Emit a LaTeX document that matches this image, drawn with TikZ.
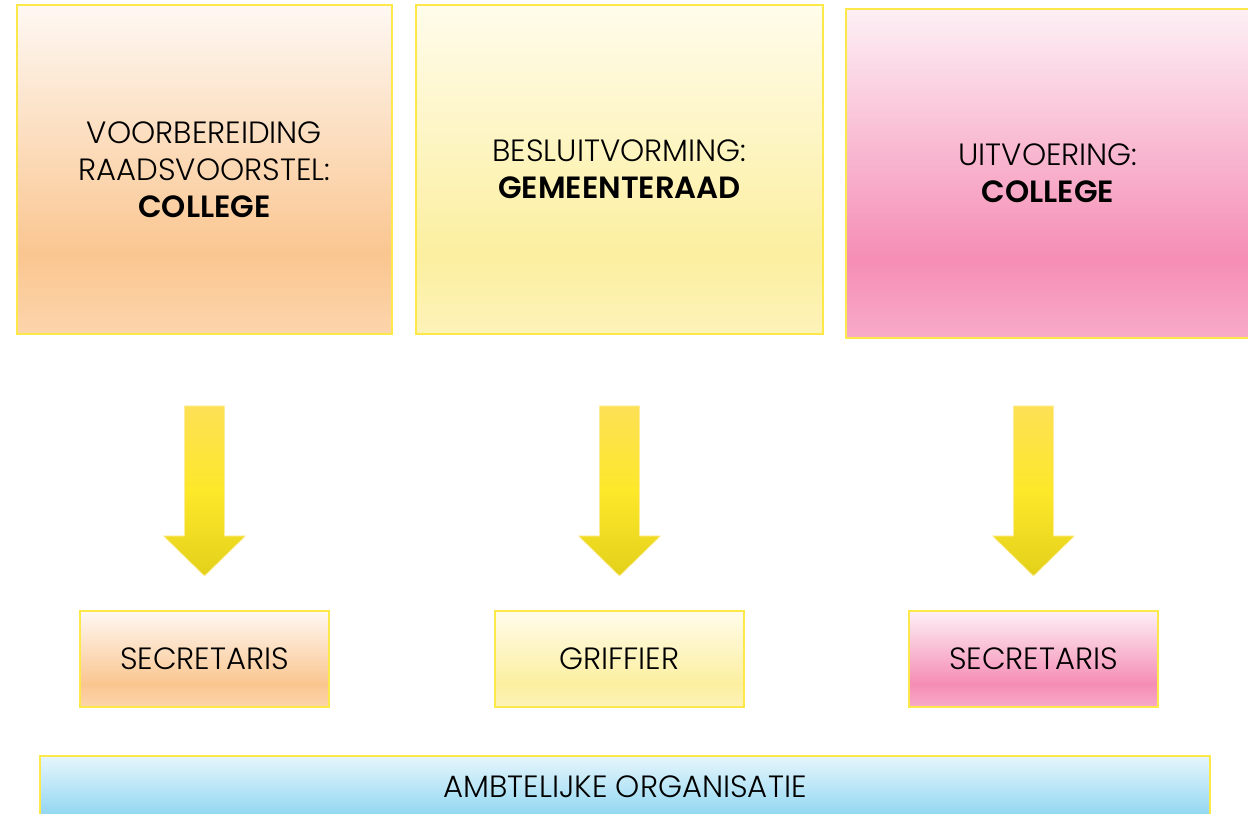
\documentclass[tikz,border=0pt]{standalone}
\usepackage{fontspec}
\setmainfont{Poppins}[UprightFont=* Light, BoldFont=* SemiBold]
\usetikzlibrary{calc}

\definecolor{rand}{HTML}{FDE84A}
\definecolor{perzikT}{HTML}{FEF8F3}
\definecolor{perzikM}{HTML}{FAC690}
\definecolor{perzikB}{HTML}{FCD5AC}
\definecolor{geelT}{HTML}{FFFCEB}
\definecolor{geelM}{HTML}{FCEFA0}
\definecolor{geelB}{HTML}{FDF3B8}
\definecolor{rozeT}{HTML}{FDF0F5}
\definecolor{rozeM}{HTML}{F58DB4}
\definecolor{rozeB}{HTML}{F8ABC8}
\definecolor{blauwT}{HTML}{E6F6FC}
\definecolor{blauwB}{HTML}{8ED5F1}
\definecolor{pijlT}{HTML}{FDE055}
\definecolor{pijlM}{HTML}{FDE82A}
\definecolor{pijlB}{HTML}{E3D01A}

\pgfdeclareverticalshading{perzik}{100bp}{color(0bp)=(perzikB); color(25bp)=(perzikB);
  color(37bp)=(perzikM); color(75bp)=(perzikT); color(100bp)=(perzikT)}
\pgfdeclareverticalshading{geel}{100bp}{color(0bp)=(geelB); color(25bp)=(geelB);
  color(37bp)=(geelM); color(75bp)=(geelT); color(100bp)=(geelT)}
\pgfdeclareverticalshading{roze}{100bp}{color(0bp)=(rozeB); color(25bp)=(rozeB);
  color(37bp)=(rozeM); color(75bp)=(rozeT); color(100bp)=(rozeT)}
\pgfdeclareverticalshading{blauw}{100bp}{color(0bp)=(blauwB); color(25bp)=(blauwB);
  color(75bp)=(blauwT); color(100bp)=(blauwT)}
\pgfdeclareverticalshading{pijl}{100bp}{color(0bp)=(pijlB); color(25bp)=(pijlB);
  color(50bp)=(pijlM); color(75bp)=(pijlT); color(100bp)=(pijlT)}

\begin{document}
\begin{tikzpicture}[x=0.02cm,y=0.02cm,
    vak/.style={rectangle,draw=rand,line width=1.2pt,align=center,
      font=\fontsize{17.5}{21}\selectfont,inner sep=0pt},
    grootvak/.style={vak,minimum height=6.58cm},
    kleinvak/.style={vak,minimum width=4.98cm,minimum height=1.92cm}]

  \useasboundingbox (0,0) rectangle (1248,-814);

  \node[grootvak,shading=perzik,minimum width=7.5cm] (vb) at (204.5,-169.5)
    {VOORBEREIDING\\RAADSVOORSTEL:\\\textbf{COLLEGE}};
  \node[grootvak,shading=geel,minimum width=8.14cm] (bs) at (619.5,-169.5)
    {BESLUITVORMING:\\\textbf{GEMEENTERAAD}};
  \node[grootvak,shading=roze,minimum width=8.08cm] (uv) at (1048,-173.5)
    {UITVOERING:\\\textbf{COLLEGE}};

  \node[kleinvak,shading=perzik] (sec1) at (204.5,-659) {SECRETARIS};
  \node[kleinvak,shading=geel] (grif) at (619.5,-659) {GRIFFIER};
  \node[kleinvak,shading=roze] (sec2) at (1033.5,-659) {SECRETARIS};

  \node[vak,shading=blauw,minimum width=23.4cm,minimum height=1.24cm] (ao)
    at (625,-787) {AMBTELIJKE ORGANISATIE};

  % pijlen
  \foreach \n in {sec1,grif,sec2}{
    \shade[shading=pijl,draw=pijlT!60!white,line width=0.4pt]
      ($(\n.north)+(-20,204)$) -- ($(\n.north)+(20,204)$)
      -- ($(\n.north)+(20,74)$) -- ($(\n.north)+(41,74)$)
      -- ($(\n.north)+(0,34)$) -- ($(\n.north)+(-41,74)$)
      -- ($(\n.north)+(-20,74)$) -- cycle;
  }

\end{tikzpicture}
\end{document}
